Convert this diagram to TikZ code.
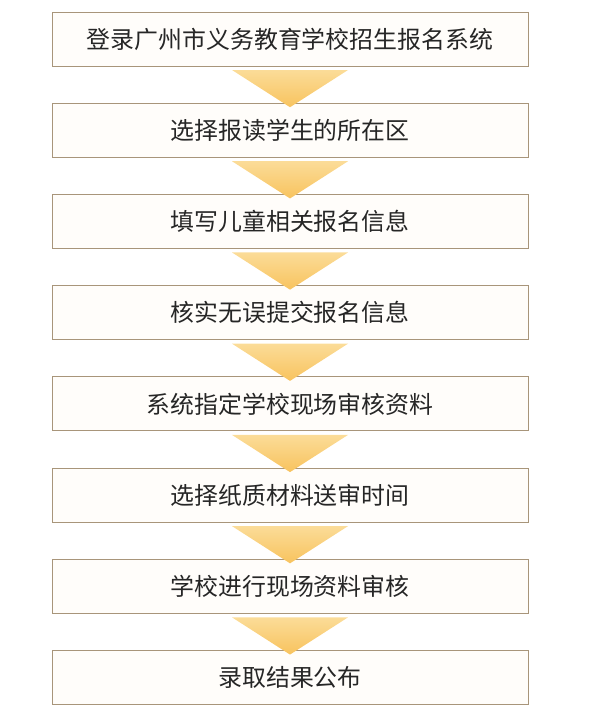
\documentclass[tikz,border=0pt]{standalone}
\usepackage{fontspec}
\newfontfamily\cjk{Noto Sans CJK SC}
\usepackage{tikz}
\usepackage{xcolor}
\usetikzlibrary{positioning,calc}
\definecolor{boxline}{HTML}{A8957A}
\definecolor{boxfill}{HTML}{FFFDFA}
\definecolor{tritop}{HTML}{FBDC98}
\definecolor{tribot}{HTML}{F8C35E}
\tikzset{
	stepbox/.style={draw=boxline,fill=boxfill,line width=0.6pt,minimum width=11.9cm,minimum height=1.35cm,inner sep=0pt,outer sep=0pt,font=\cjk\fontsize{17}{20}\selectfont,text=black!85},
	flowtri/.style={top color=tritop,bottom color=tribot,draw=none}
}

\begin{document}
\begin{tikzpicture}[x=0.025cm,y=0.025cm,node distance=0.93cm]
				\useasboundingbox (0,0) rectangle (600,-720);
				% Steps
				\node[stepbox] (login) at (290,-39) {登录广州市义务教育学校招生报名系统};
				\node[stepbox,below=of login] (district) {选择报读学生的所在区};
				\node[stepbox,below=of district] (fill) {填写儿童相关报名信息};
				\node[stepbox,below=of fill] (submit) {核实无误提交报名信息};
				\node[stepbox,below=of submit] (assign) {系统指定学校现场审核资料};
				\node[stepbox,below=of assign] (time) {选择纸质材料送审时间};
				\node[stepbox,below=of time] (review) {学校进行现场资料审核};
				\node[stepbox,below=of review] (result) {录取结果公布};
				% Arrows
				\foreach \a/\b in {login/district,district/fill,fill/submit,submit/assign,assign/time,time/review,review/result}
				{
					\path[flowtri] ($(\a.south)+(-58,-4)$) -- ($(\a.south)+(58,-4)$) -- ($(\b.north)+(0,-4)$) -- cycle;
				}
			\end{tikzpicture}
\end{document}
